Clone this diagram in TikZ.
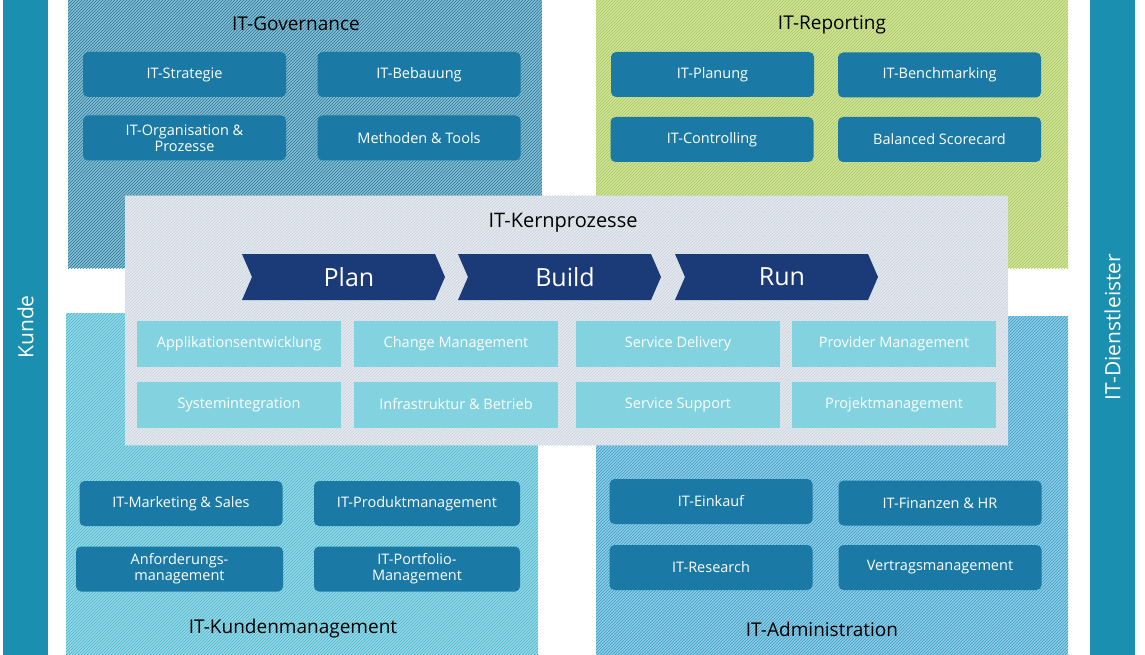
\documentclass[tikz,border=0pt]{standalone}
\usepackage{fontspec}
\setmainfont{Open Sans}
\usetikzlibrary{patterns}

\definecolor{barblue}{HTML}{1A8FB0}
\definecolor{boxdark}{HTML}{1A7AA5}
\definecolor{boxlight}{HTML}{82D3DF}
\definecolor{chevblue}{HTML}{1A3A78}
\definecolor{govhatch}{HTML}{1A7AA0}
\definecolor{rephatch}{HTML}{A6C84A}
\definecolor{kunhatch}{HTML}{3BB4CE}
\definecolor{admhatch}{HTML}{2A9CC8}
\definecolor{kernhatch}{HTML}{C9D3DE}

\tikzset{
  area/.style={preaction={fill=#1!50!white}, pattern=north east lines, pattern color=#1},
  darkbox/.style={fill=boxdark, rounded corners=5pt, text=white, font=\fontsize{14.5}{16}\selectfont,
    align=center, minimum width=203pt, minimum height=45pt, inner sep=0pt},
  lightbox/.style={fill=boxlight, text=white, font=\fontsize{14.5}{16}\selectfont,
    minimum width=204pt, minimum height=46pt, inner sep=0pt},
  title/.style={font=\fontsize{19}{21}\selectfont, text=black},
}

\begin{document}
\begin{tikzpicture}[x=1pt, y=-1pt]
    \useasboundingbox (0, 0) rectangle (1145, 655);
    % side bars
    \fill[barblue] (3, 0) rectangle (48, 655);
    \fill[barblue] (1090, 0) rectangle (1135, 655);
    \node[rotate=90, text=white, font=\fontsize{21}{23}\selectfont] (kunde) at (25.5, 327) {Kunde};
    \node[rotate=90, text=white, font=\fontsize{21}{23}\selectfont] (dienst) at (1112.5, 327) {IT-Dienstleister};

    % four areas
    \fill[area=govhatch] (68, 0) rectangle (542, 268);
    \fill[area=rephatch] (596, 0) rectangle (1068, 268);
    \fill[area=kunhatch] (66, 313) rectangle (538, 655);
    \fill[area=admhatch] (596, 316) rectangle (1068, 655);
    \node[title] (gov) at (296, 24) {IT-Governance};
    \node[title] (rep) at (832, 25) {IT-Reporting};
    \node[title] (kun) at (293, 629) {IT-Kundenmanagement};
    \node[title] (adm) at (822, 629) {IT-Administration};

    % Governance
    \node[darkbox] (strat) at (184.5, 74.5) {IT-Strategie};
    \node[darkbox] (bebau) at (419, 74.5) {IT-Bebauung};
    \node[darkbox] (orga) at (184.5, 138) {IT-Organisation \&\\Prozesse};
    \node[darkbox] (meth) at (419, 138) {Methoden \& Tools};
    % Reporting
    \node[darkbox] (plang) at (712.5, 74.5) {IT-Planung};
    \node[darkbox] (bench) at (939.5, 75) {IT-Benchmarking};
    \node[darkbox] (contr) at (712, 139.5) {IT-Controlling};
    \node[darkbox] (bsc) at (939.5, 139.5) {Balanced Scorecard};
    % Kundenmanagement
    \node[darkbox] (mark) at (181, 503.5) {IT-Marketing \& Sales};
    \node[darkbox, minimum width=206pt] (prod) at (417, 503.5) {IT-Produktmanagement};
    \node[darkbox, minimum width=207pt] (anf) at (179.5, 569) {Anforderungs-\\management};
    \node[darkbox, minimum width=206pt] (port) at (417, 569) {IT-Portfolio-\\Management};
    % Administration
    \node[darkbox] (eink) at (711, 501.5) {IT-Einkauf};
    \node[darkbox] (fin) at (940, 503) {IT-Finanzen \& HR};
    \node[darkbox] (res) at (711, 567.5) {IT-Research};
    \node[darkbox] (vert) at (940, 567.5) {Vertragsmanagement};

    % Kernprozesse
    \fill[area=kernhatch] (125, 196) rectangle (1008, 445);
    \node[title, font=\fontsize{20}{22}\selectfont] (kern) at (563, 223) {IT-Kernprozesse};
    \foreach \name/\x/\lbl in {plan/242/Plan, build/458/Build, run/675/Run} {
      \fill[chevblue] (\x, 254) -- (\x+193, 254) -- (\x+203, 277) -- (\x+193, 300)
        -- (\x, 300) -- (\x+10, 277) -- cycle;
      \node[text=white, font=\fontsize{25}{27}\selectfont] (\name) at (\x+107, 277) {\lbl};
    }
    \node[lightbox] (appl) at (239, 344) {Applikationsentwicklung};
    \node[lightbox] (chg) at (456, 344) {Change Management};
    \node[lightbox] (deliv) at (678, 344) {Service Delivery};
    \node[lightbox] (prov) at (894, 344) {Provider Management};
    \node[lightbox] (sysint) at (239, 404.5) {Systemintegration};
    \node[lightbox] (infra) at (456, 404.5) {Infrastruktur \& Betrieb};
    \node[lightbox] (supp) at (678, 404.5) {Service Support};
    \node[lightbox] (proj) at (894, 404.5) {Projektmanagement};
\end{tikzpicture}
\end{document}
